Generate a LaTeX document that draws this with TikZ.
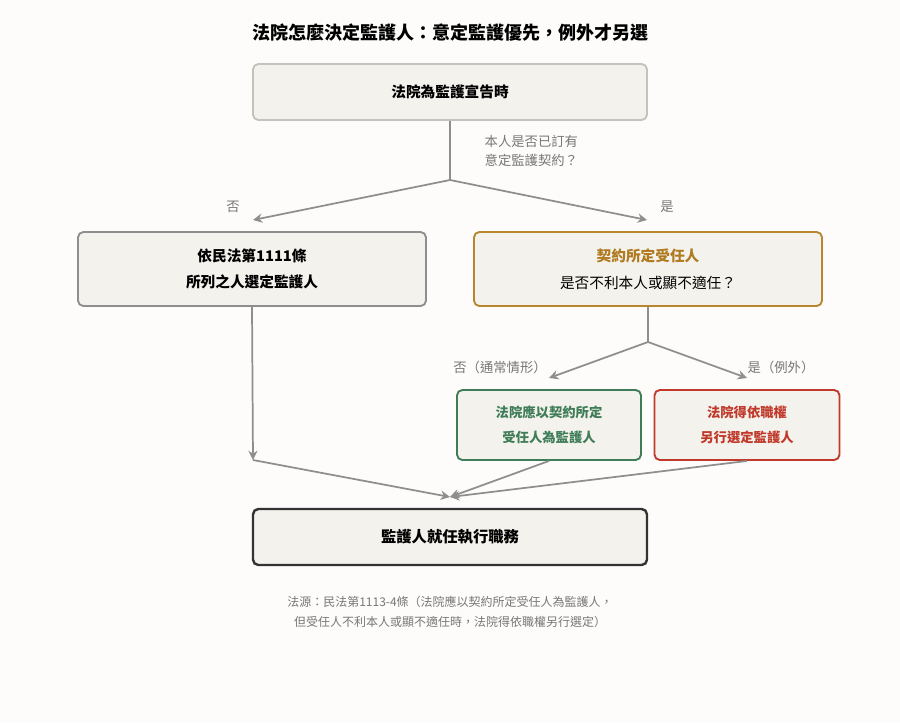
\documentclass[tikz,border=0pt]{standalone}
\usepackage{fontspec}
\setmainfont{Noto Sans CJK TC}
\usetikzlibrary{arrows.meta}
\definecolor{bg}{HTML}{FDFCFA}
\definecolor{boxfill}{HTML}{F4F2EC}
\definecolor{ln}{HTML}{8E8E8E}
\definecolor{txtg}{HTML}{777777}
\definecolor{gold}{HTML}{B8862E}
\definecolor{goldt}{HTML}{B07A20}
\definecolor{grn}{HTML}{3F7D58}
\definecolor{rd}{HTML}{C0392B}
\begin{document}
\begin{tikzpicture}[x=0.75pt,y=-0.75pt,
 box/.style={draw,rounded corners=4pt,fill=boxfill,line width=1.4pt,align=center,inner sep=0pt},
 arr/.style={draw=ln,line width=1.3pt,-{Stealth[length=7pt,width=7pt]}},
 lab/.style={text=txtg,font=\fontsize{10}{14}\selectfont}]
\fill[bg] (0,0) rectangle (900,722);
\useasboundingbox (0,0) rectangle (900,722);
\node[font=\fontsize{13.5}{16}\selectfont\bfseries] (title) at (450,33) {法院怎麼決定監護人：意定監護優先，例外才另選};
\node[box,draw=boxfill!80!black,minimum width=394*0.75pt,minimum height=56*0.75pt,font=\fontsize{11}{14}\selectfont\bfseries] (b1) at (450,92) {法院為監護宣告時};
\coordinate (s1) at (450,180);
\draw[ln,line width=1.3pt] (b1.south) -- (s1);
\node[lab,anchor=west,align=left] (q1) at (480,151) {本人是否已訂有\\意定監護契約？};
\node[box,draw=ln,minimum width=348*0.75pt,minimum height=74*0.75pt,font=\fontsize{11}{20}\selectfont\bfseries] (bl) at (252,269) {依民法第1111條\\所列之人選定監護人};
\node[box,draw=gold,minimum width=348*0.75pt,minimum height=74*0.75pt,font=\fontsize{11}{20}\selectfont] (br) at (648,269) {\textcolor{goldt}{\bfseries 契約所定受任人}\\是否不利本人或顯不適任？};
\coordinate (tl) at (253,220);
\coordinate (tr) at (647,220);
\draw[arr] (s1) -- (tl);
\draw[arr] (s1) -- (tr);
\node[lab] (no1) at (233,207) {否};
\node[lab] (yes1) at (667,207) {是};
\coordinate (s2) at (648,342);
\draw[ln,line width=1.3pt] (br.south) -- (s2);
\coordinate (tg) at (549,378);
\coordinate (tr2) at (747,378);
\draw[arr] (s2) -- (tg);
\draw[arr] (s2) -- (tr2);
\node[lab] (no2) at (500,367) {否（通常情形）};
\node[lab] (yes2) at (781,367) {是（例外）};
\node[box,draw=grn,text=grn,minimum width=184*0.75pt,minimum height=70*0.75pt,font=\fontsize{10}{19}\selectfont\bfseries] (bg) at (549,425) {法院應以契約所定\\受任人為監護人};
\node[box,draw=rd,text=rd,minimum width=185*0.75pt,minimum height=70*0.75pt,font=\fontsize{10}{19}\selectfont\bfseries] (bR) at (747,425) {法院得依職權\\另行選定監護人};
\coordinate (jl) at (253,460);
\draw[arr] (bl.south) -- (jl);
\coordinate (m) at (450,497);
\draw[arr] (jl) -- (m);
\draw[arr] (bg.south) -- (m);
\draw[arr] (bR.south) -- (m);
\node[box,draw=black!80,line width=1.8pt,minimum width=394*0.75pt,minimum height=56*0.75pt,font=\fontsize{11.5}{14}\selectfont\bfseries] (b4) at (450,537) {監護人就任執行職務};
\node[lab,align=center,font=\fontsize{9}{15}\selectfont] (foot) at (450,612) {法源：民法第1113-4條（法院應以契約所定受任人為監護人，\\但受任人不利本人或顯不適任時，法院得依職權另行選定）};
\end{tikzpicture}
\end{document}
